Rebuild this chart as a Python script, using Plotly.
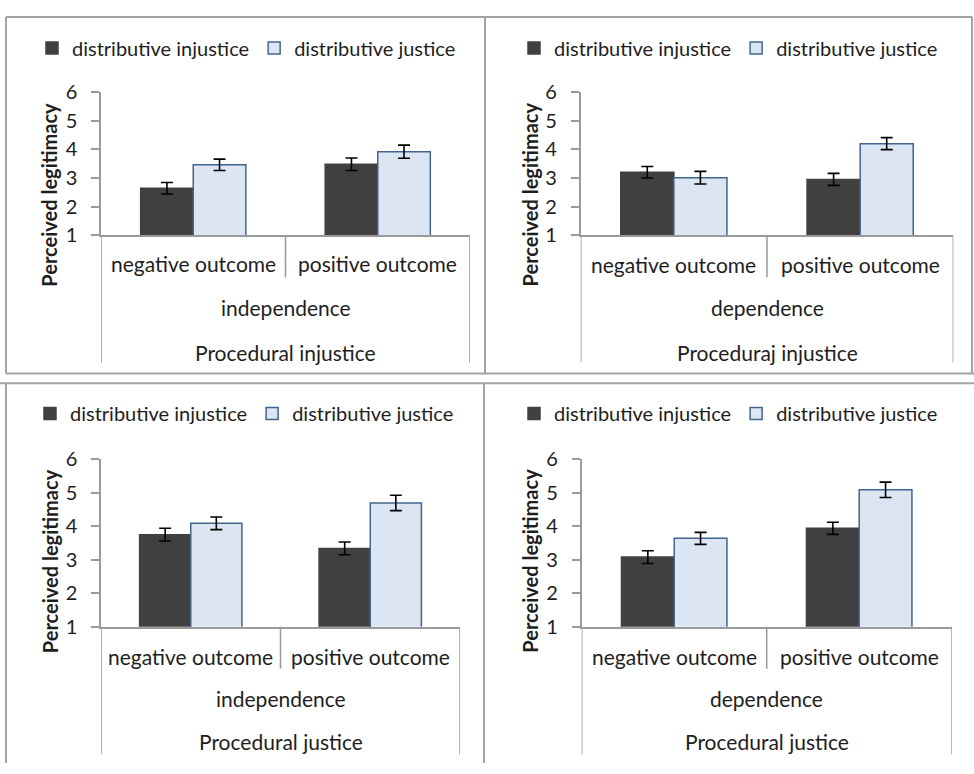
import plotly.graph_objects as go

W, H = 974, 774

# ---- data -------------------------------------------------------------
outcomes = ["negative outcome", "positive outcome"]
series_names = ["distributive injustice", "distributive justice"]
y_ticks = [1, 2, 3, 4, 5, 6]

procedure_labels = ["Procedural injustice", "Proceduraj injustice",
                    "Procedural justice", "Procedural justice"]
dependency_labels = ["independence", "dependence", "independence", "dependence"]

# means (perceived legitimacy) per outcome
p1_injustice = [2.64, 3.48]
p1_justice = [3.46, 3.92]
p2_injustice = [3.20, 2.95]
p2_justice = [3.01, 4.20]
p3_injustice = [3.75, 3.34]
p3_justice = [4.09, 4.70]
p4_injustice = [3.08, 3.94]
p4_justice = [3.64, 5.09]

# standard errors
p1_injustice_err = [0.20, 0.22]
p1_justice_err = [0.20, 0.23]
p2_injustice_err = [0.20, 0.21]
p2_justice_err = [0.22, 0.21]
p3_injustice_err = [0.19, 0.19]
p3_justice_err = [0.19, 0.23]
p4_injustice_err = [0.19, 0.18]
p4_justice_err = [0.18, 0.23]

panel_values = [
    (p1_injustice, p1_justice, p1_injustice_err, p1_justice_err),
    (p2_injustice, p2_justice, p2_injustice_err, p2_justice_err),
    (p3_injustice, p3_justice, p3_injustice_err, p3_justice_err),
    (p4_injustice, p4_justice, p4_injustice_err, p4_justice_err),
]

# ---- styling ----------------------------------------------------------
FONT = "Lato"
TEXT = "#1e1e1e"
AXIS = "#9a9a9a"
FRAME = "#a3a3a3"
DARK = "#404040"
LIGHT = "#dce6f2"
LIGHT_EDGE = "#41648f"
LABEL_SIZE = 21
LEGEND_SIZE = 20

# plot-area boxes in pixels: left, right, top (y=6), bottom (y=1)
boxes = [
    (101.0, 470.0, 81.7, 229.3),
    (580.7, 953.3, 81.7, 229.3),
    (101.0, 460.0, 460.7, 633.3),
    (581.7, 951.7, 460.7, 633.3),
]
# vertical offsets (px below the value axis) of the category-box elements
box_depth = [131.4, 131.4, 131.7, 131.7]
divider_depth = [43.7, 43.4, 43.4, 43.4]
outcome_row = [28.7, 29.0, 29.4, 29.4]
dependency_row = [72.7, 72.4, 71.7, 71.7]
procedure_row = [117.7, 117.4, 115.0, 115.0]
title_center = [187.5, 187.5, 565.7, 565.5]
title_offset = [52, 51, 51, 52]
legend_pos = [(32, 36), (514, 36), (30, 413.3), (514, 413.3)]

fig = go.Figure()
annotations = []
shapes = []

for i, (vals_dark, vals_light, err_dark, err_light) in enumerate(panel_values):
    n = i + 1
    xa = "x" if n == 1 else f"x{n}"
    ya = "y" if n == 1 else f"y{n}"
    leg = "legend" if n == 1 else f"legend{n}"
    xpos = list(range(len(outcomes)))

    for name, vals, errs, fill, edge in (
        (series_names[0], vals_dark, err_dark, DARK, DARK),
        (series_names[1], vals_light, err_light, LIGHT, LIGHT_EDGE),
    ):
        fig.add_trace(go.Bar(
            x=xpos, y=vals, name=name, xaxis=xa, yaxis=ya, legend=leg,
            marker=dict(color=fill, line=dict(color=edge, width=1.5)),
            error_y=dict(type="data", array=errs, visible=True,
                         color="#000000", thickness=1.6, width=6),
            hoverinfo="skip",
        ))

    left, right, top, bottom = boxes[i]
    dom_h = bottom - top
    xkey = "xaxis" if n == 1 else f"xaxis{n}"
    ykey = "yaxis" if n == 1 else f"yaxis{n}"
    fig.update_layout(**{
        xkey: dict(domain=[left / W, right / W], range=[-0.5, 1.5],
                   showticklabels=False, ticks="", showgrid=False,
                   zeroline=False, showline=True, linecolor=AXIS,
                   linewidth=1.5, anchor=ya, fixedrange=True),
        ykey: dict(domain=[1 - bottom / H, 1 - top / H], range=[1, 6],
                   tickvals=y_ticks, ticks="outside", ticklen=8,
                   tickcolor=AXIS, tickwidth=1.5, showgrid=False,
                   zeroline=False, showline=True, linecolor=AXIS,
                   linewidth=1.5, anchor=xa, fixedrange=True,
                   ticklabelstandoff=10,
                   tickfont=dict(family=FONT, size=20, color=TEXT)),
        leg: dict(orientation="h", x=legend_pos[i][0] / W,
                  y=1 - legend_pos[i][1] / H, xanchor="left",
                  yanchor="middle", bgcolor="rgba(0,0,0,0)",
                  font=dict(family=FONT, size=LEGEND_SIZE, color=TEXT),
                  itemwidth=30, traceorder="normal"),
    })

    xd = f"{xa} domain"
    yd = f"{ya} domain"
    # category box: outer verticals and the divider between outcomes
    for xv, depth in ((-0.5, box_depth[i]), (1.5, box_depth[i]),
                      (0.5, divider_depth[i])):
        shapes.append(dict(type="line", xref=xa, yref=yd, x0=xv, x1=xv,
                           y0=0, y1=-depth / dom_h,
                           line=dict(color=AXIS, width=1.5)))

    label_font = dict(family=FONT, size=LABEL_SIZE, color=TEXT)
    for k, lab in enumerate(outcomes):
        annotations.append(dict(text=lab, xref=xa, yref=yd, x=k, y=0,
                                yshift=-outcome_row[i], showarrow=False,
                                yanchor="middle", font=label_font))
    annotations.append(dict(text=dependency_labels[i], xref=xa, yref=yd,
                            x=0.5, y=0, yshift=-dependency_row[i],
                            showarrow=False, yanchor="middle",
                            font=label_font))
    annotations.append(dict(text=procedure_labels[i], xref=xa, yref=yd,
                            x=0.5, y=0, yshift=-procedure_row[i],
                            showarrow=False, yanchor="middle",
                            font=label_font))
    annotations.append(dict(text="<b>Perceived legitimacy</b>", xref=xd,
                            yref="paper", x=0, y=1 - title_center[i] / H,
                            xshift=-title_offset[i], textangle=-90,
                            showarrow=False, xanchor="center",
                            yanchor="middle",
                            font=dict(family=FONT, size=20, color=TEXT)))

# panel frames
frame_lines = [
    (6, 4, 972, 4), (6, 4, 6, 372), (6, 372, 974, 372),
    (485, 4, 485, 372), (972, 4, 972, 372),
    (0, 382, 974, 382), (6, 382, 6, 774), (484, 382, 484, 774),
]
for x0, y0, x1, y1 in frame_lines:
    shapes.append(dict(type="line", xref="paper", yref="paper",
                       x0=x0 / W, x1=x1 / W, y0=1 - y0 / H, y1=1 - y1 / H,
                       line=dict(color=FRAME, width=2)))

fig.update_layout(
    width=W, height=H, margin=dict(l=0, r=0, t=0, b=0),
    paper_bgcolor="white", plot_bgcolor="white",
    barmode="group", bargap=0.43, bargroupgap=0,
    annotations=annotations, shapes=shapes, showlegend=True,
    font=dict(family=FONT, color=TEXT),
)

fig.write_html("out.html")
